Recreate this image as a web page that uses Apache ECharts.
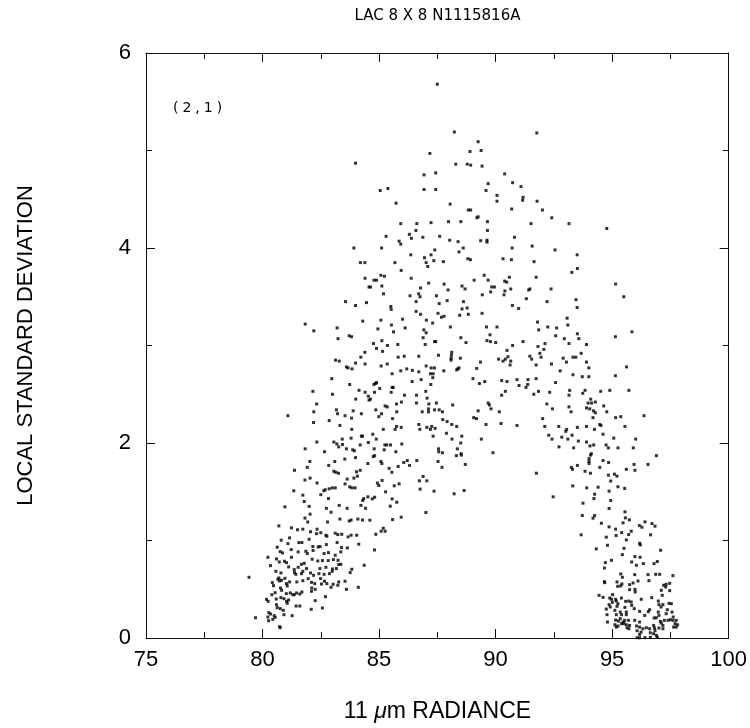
<!DOCTYPE html>
<html><head><meta charset="utf-8">
<script src="https://cdn.jsdelivr.net/npm/echarts@6/dist/echarts.min.js"></script>
<style>html,body{margin:0;padding:0;background:#fff}#c{width:750px;height:728px}</style>
</head><body><div id="c"></div>
<script>
// ---- text ----
const chartTitle = 'LAC 8 X 8 N1115816A';
const xAxisTitle = ['11 ', 'μ', 'm RADIANCE'];
const yAxisTitle = 'LOCAL STANDARD DEVIATION';
const panelTag = '(2,1)';
// ---- axes ----
const xTickValues = [75, 80, 85, 90, 95, 100];
const yTickValues = [0, 2, 4, 6];

// ---- data: [11 um radiance, local standard deviation] ----
const ptsUpperLeft = [[83.99,4.87],[83.92,4.00],[84.20,3.85],[84.39,3.85]];
const ptsUpperMid = [
[87.50,5.68],[88.23,5.19],[89.25,5.09],[88.90,4.99],[89.38,5.00],[87.18,4.97],[88.29,4.86],[88.78,4.86],[88.93,4.85],[89.42,4.84],
[86.93,4.75],[87.43,4.77],[90.39,4.76],[89.68,4.66],[90.73,4.67],[91.09,4.63],[89.59,4.59],[85.05,4.59],[85.38,4.61],[86.93,4.60],
[87.43,4.60],[90.06,4.54],[91.18,4.52],[90.06,4.48],[91.16,4.49],[85.73,4.46],[88.05,4.45],[90.69,4.40],[88.83,4.39],[88.93,4.39],
[89.20,4.31],[89.25,4.32],[85.93,4.25],[86.62,4.25],[87.23,4.26],[87.98,4.27],[88.51,4.27],[89.65,4.27],[86.58,4.18],[89.65,4.18],
[86.30,4.14],[85.30,4.12],[86.39,4.10],[86.88,4.11],[87.60,4.12],[90.81,4.11],[88.03,4.08],[88.39,4.065],[85.86,4.07],[85.93,4.04],
[89.36,4.075],[89.63,4.08],[89.63,4.06],[85.11,4.00],[87.39,3.98],[88.61,4.00],[90.71,4.00],[88.43,3.96],[86.36,3.93],[87.23,3.93],
[86.95,3.90],[88.81,3.89],[88.92,3.88],[90.32,3.89],[90.68,3.88],[85.68,3.85],[87.35,3.87],[87.76,3.86],[87.02,3.85]];
const ptsUpperRight = [[91.77,5.18],[91.78,4.48],[92.01,4.39],[92.41,4.31],[91.52,4.25],[93.15,4.25],[94.77,4.20],[91.57,4.02],[92.55,3.98],[93.50,3.93],[91.65,3.86]];
const ptsMidLeft = [
[84.40,3.69],[84.57,3.60],[83.56,3.45],[83.99,3.41],[84.46,3.44],[84.30,3.25],[81.83,3.22],[83.20,3.18],[82.20,3.15],[83.24,3.07],
[83.72,3.10],[83.82,3.09],[84.39,2.93],[84.22,2.88],[83.13,2.85],[83.29,2.84],[83.99,2.82],[84.40,2.81],[83.60,2.78],[83.67,2.77],
[83.84,2.76],[82.97,2.66],[83.74,2.60],[82.16,2.53],[84.14,2.54],[84.40,2.52],[83.00,2.50],[84.54,2.48],[84.00,2.45],[84.57,2.44],
[82.32,2.40],[83.17,2.34],[83.89,2.33],[82.20,2.32],[83.22,2.30],[83.54,2.28],[84.24,2.30],[81.09,2.28],[83.82,2.255],[82.86,2.23],
[82.19,2.21],[83.32,2.18],[83.83,2.14],[84.24,2.07],[84.29,2.07],[83.80,2.05],[83.42,2.04],[82.33,2.01],[83.06,2.01],[83.19,1.99],
[83.43,1.985],[84.54,2.005],[83.27,1.96],[84.19,1.98],[81.83,1.94],[83.60,1.94],[83.87,1.93],[83.94,1.92],[82.66,1.91]];
const ptsMidCenter = [
[87.09,3.81],[85.95,3.77],[85.08,3.72],[85.23,3.71],[84.78,3.67],[84.89,3.67],[86.38,3.69],[89.51,3.72],[89.68,3.67],[90.59,3.70],
[90.39,3.66],[90.48,3.65],[91.42,3.57],[84.63,3.60],[85.12,3.61],[87.13,3.64],[86.78,3.59],[87.79,3.63],[87.96,3.57],[88.56,3.61],
[88.69,3.58],[89.08,3.67],[89.83,3.60],[89.95,3.60],[89.79,3.55],[90.40,3.56],[90.65,3.58],[85.19,3.53],[86.33,3.51],[86.70,3.53],
[86.76,3.50],[87.46,3.51],[87.92,3.46],[88.62,3.45],[89.43,3.52],[90.36,3.52],[91.32,3.48],[86.59,3.45],[87.58,3.43],[90.72,3.41],
[90.99,3.38],[85.505,3.40],[85.52,3.37],[86.59,3.35],[86.78,3.32],[87.53,3.33],[87.79,3.30],[87.68,3.29],[88.56,3.375],[88.78,3.385],
[88.46,3.31],[88.83,3.32],[89.42,3.33],[85.08,3.26],[86.01,3.27],[87.03,3.26],[87.30,3.23],[85.53,3.21],[86.12,3.18],[84.95,3.17],
[88.06,3.19],[89.61,3.19],[90.06,3.19],[85.62,3.14],[86.92,3.16],[87.02,3.13],[89.76,3.11],[86.89,3.08],[88.51,3.08],[88.73,3.03],
[89.63,3.05],[89.78,3.04],[90.005,3.03],[91.18,3.04],[85.12,3.05],[84.76,3.02],[84.89,2.97],[85.36,3.00],[85.805,3.01],[86.98,3.01],
[87.38,3.04],[87.43,3.04],[90.73,3.00],[90.49,2.95],[85.15,2.94],[85.82,2.88],[86.08,2.89],[86.705,2.89],[87.55,2.90],[88.12,2.93],
[88.105,2.90],[88.09,2.87],[88.09,2.85],[88.49,2.87],[90.13,2.86],[90.32,2.84],[90.42,2.86],[90.53,2.885],[90.65,2.84],[90.62,2.80],
[89.35,2.83],[85.09,2.79],[85.35,2.81],[85.56,2.71],[85.93,2.74],[86.19,2.76],[86.43,2.745],[86.705,2.73],[87.02,2.79],[87.235,2.77],
[87.38,2.77],[87.205,2.71],[87.32,2.71],[87.305,2.67],[87.78,2.74],[88.33,2.75],[88.38,2.76],[88.43,2.77],[89.19,2.765],[84.78,2.60],
[84.85,2.61],[84.89,2.62],[85.03,2.56],[85.56,2.57],[85.605,2.57],[85.52,2.52],[84.805,2.52],[86.42,2.63],[86.805,2.65],[87.005,2.53],
[87.22,2.60],[89.03,2.66],[89.305,2.61],[89.535,2.63],[90.26,2.64],[90.49,2.63],[90.92,2.65],[91.39,2.65],[91.38,2.60],[91.305,2.57],
[91.005,2.59],[84.63,2.45],[86.09,2.49],[86.605,2.49],[87.06,2.46],[90.42,2.53],[90.26,2.49],[85.26,2.38],[85.35,2.37],[84.86,2.34],
[85.75,2.40],[85.96,2.42],[85.105,2.30],[84.99,2.27],[85.76,2.32],[86.605,2.41],[87.135,2.40],[87.12,2.35],[86.85,2.32],[87.12,2.32],
[87.38,2.34],[87.46,2.41],[87.58,2.34],[87.72,2.32],[88.16,2.39],[89.68,2.41],[89.735,2.39],[89.805,2.35],[89.25,2.33],[90.16,2.32],
[89.06,2.26],[89.18,2.25],[85.58,2.25],[87.735,2.24],[87.92,2.22],[88.12,2.19],[88.33,2.17],[89.59,2.19],[90.235,2.20],[90.92,2.18],
[86.705,2.19],[85.75,2.17],[85.95,2.16],[85.18,2.14],[85.69,2.14],[86.75,2.14],[87.05,2.16],[87.26,2.17],[87.405,2.15],[87.205,2.14],
[87.32,2.07],[87.89,2.10],[84.73,2.09],[84.88,2.04],[85.975,1.99],[85.25,1.98],[85.33,1.98],[85.49,1.98],[84.79,1.94],[85.22,1.93],
[85.72,1.91],[88.13,2.04],[88.55,2.07],[88.505,2.00],[89.39,2.04],[87.55,1.94],[87.56,1.91],[87.72,1.90],[88.36,1.94],[88.52,1.89],
[89.89,1.90]];
const ptsMidRight = [
[93.51,3.79],[93.27,3.75],[91.74,3.70],[95.15,3.63],[91.47,3.58],[92.38,3.58],[95.50,3.50],[92.21,3.45],[93.45,3.47],[93.50,3.39],
[93.07,3.28],[93.10,3.21],[91.80,3.24],[92.24,3.19],[92.62,3.18],[91.85,3.16],[92.58,3.10],[92.95,3.07],[93.51,3.12],[93.57,3.07],
[93.15,3.02],[93.90,3.01],[91.82,2.99],[92.12,3.02],[92.07,2.96],[91.90,2.92],[91.95,2.88],[91.47,2.89],[91.55,2.86],[92.90,2.87],
[93.04,2.83],[93.32,2.88],[93.44,2.88],[93.67,2.92],[93.90,2.83],[91.74,2.80],[92.40,2.81],[94.00,2.77],[92.77,2.74],[93.32,2.70],
[93.72,2.68],[94.00,2.68],[95.14,3.09],[95.85,3.14],[95.62,2.78],[95.14,2.69],[91.74,2.66],[92.57,2.62],[91.64,2.50],[91.84,2.53],
[92.32,2.52],[93.18,2.54],[93.15,2.49],[93.74,2.51],[93.84,2.54],[94.51,2.53],[94.90,2.54],[95.72,2.54],[94.08,2.45],[93.97,2.41],
[94.12,2.41],[94.28,2.42],[92.20,2.40],[92.44,2.35],[93.15,2.37],[93.24,2.32],[93.90,2.36],[94.04,2.35],[94.20,2.33],[94.28,2.31],
[94.64,2.38],[94.77,2.32],[92.02,2.25],[94.18,2.26],[95.15,2.26],[95.37,2.27],[96.37,2.28],[92.11,2.17],[92.71,2.17],[93.05,2.14],
[93.01,2.12],[93.51,2.16],[93.90,2.17],[94.47,2.19],[94.52,2.18],[94.24,2.14],[95.55,2.17],[94.61,2.09],[92.28,2.08],[92.42,2.04],
[92.84,2.06],[93.10,2.04],[93.28,2.08],[93.55,2.02],[93.90,2.01],[94.05,1.97],[94.21,1.98],[94.74,1.98],[94.84,1.95],[95.07,2.05],
[95.25,1.95],[95.91,1.95],[96.01,2.04],[92.72,1.96],[93.35,1.95],[94.11,1.89]];
const ptsLowLeft = [
[82.03,1.81],[81.37,1.72],[81.92,1.75],[82.84,1.77],[83.10,1.81],[83.53,1.835],[83.99,1.85],[84.52,1.79],[83.06,1.71],[83.14,1.70],
[83.26,1.69],[84.03,1.705],[84.19,1.72],[84.07,1.66],[83.92,1.64],[81.82,1.62],[82.04,1.64],[82.34,1.59],[83.63,1.63],[83.74,1.55],
[83.84,1.54],[83.97,1.54],[83.54,1.58],[81.34,1.51],[82.63,1.51],[82.69,1.52],[82.86,1.53],[82.99,1.54],[83.12,1.54],[82.50,1.47],
[81.73,1.465],[84.34,1.43],[84.30,1.41],[84.52,1.448],[82.83,1.43],[81.79,1.40],[82.00,1.35],[80.96,1.345],[82.74,1.33],[83.29,1.36],
[83.63,1.33],[84.22,1.36],[84.42,1.33],[82.94,1.29],[81.82,1.23],[82.04,1.27],[81.94,1.19],[83.32,1.22],[82.79,1.19],[83.72,1.20],
[84.09,1.22],[84.29,1.21],[83.80,1.21],[80.70,1.15],[81.24,1.13],[81.50,1.11],[81.73,1.116],[82.34,1.116],[82.06,1.09],[82.32,1.07],
[82.50,1.08],[82.72,1.054],[82.76,1.044],[83.12,1.075],[83.23,1.061],[83.40,1.064],[83.67,1.037],[84.04,1.054],[83.80,1.054],[80.80,1.003],
[81.16,1.027],[81.09,0.968],[81.56,0.979],[81.69,0.979],[82.00,1.013],[82.16,0.938],[82.47,0.938],[82.74,0.958],[83.20,0.979],[83.39,0.927],
[84.13,0.962],[80.63,0.931],[80.76,0.886],[80.86,0.873],[81.23,0.907],[81.53,0.883],[81.86,0.890],[81.92,0.866],[82.17,0.897],[82.39,0.934],
[82.64,0.866],[82.83,0.876],[83.12,0.849],[83.36,0.883],[83.64,0.924],[80.23,0.828],[80.60,0.811],[80.72,0.780],[80.94,0.787],[81.03,0.773],
[81.24,0.828],[82.13,0.808],[82.37,0.790],[82.57,0.794],[82.82,0.794],[83.04,0.804],[83.24,0.797],[80.34,0.742],[81.12,0.729],[81.53,0.725],
[81.36,0.701],[81.67,0.756],[81.79,0.766],[81.89,0.712],[82.46,0.712],[82.72,0.725],[83.00,0.708],[83.27,0.753],[83.36,0.756],[83.83,0.705],
[84.36,0.746],[80.57,0.684],[80.70,0.616],[80.79,0.667],[81.37,0.671],[81.43,0.653],[81.67,0.660],[81.73,0.684],[82.06,0.667],[82.19,0.643],
[82.42,0.660],[82.64,0.653],[82.87,0.660],[82.99,0.684],[83.17,0.712],[83.76,0.671],[79.42,0.623],[80.42,0.568],[80.66,0.602],[80.73,0.585],
[80.82,0.592],[80.96,0.612],[81.03,0.558],[81.16,0.575],[81.47,0.575],[81.73,0.588],[81.96,0.609],[82.10,0.571],[82.24,0.558],[82.49,0.609],
[82.53,0.554],[82.66,0.582],[82.76,0.558],[83.03,0.551],[83.27,0.575],[83.54,0.582],[84.11,0.520],[80.47,0.537],[80.77,0.513],[80.82,0.489],
[81.06,0.534],[80.54,0.465],[80.40,0.444],[81.02,0.455],[81.19,0.462],[81.30,0.444],[81.46,0.462],[81.36,0.444],[81.60,0.451],[81.69,0.472],
[82.10,0.479],[82.11,0.513],[82.26,0.499],[82.94,0.520],[83.23,0.541],[83.60,0.499],[80.17,0.397],[80.24,0.376],[80.59,0.400],[80.79,0.414],
[80.92,0.403],[81.03,0.376],[81.12,0.390],[81.44,0.328],[81.60,0.328],[82.09,0.294],[82.26,0.383],[82.57,0.308],[82.70,0.424],[80.60,0.342],
[80.76,0.301],[80.89,0.284],[81.06,0.356],[80.92,0.239],[80.63,0.311],[80.27,0.260],[80.34,0.246],[80.50,0.229],[80.54,0.212],[80.23,0.215],
[80.44,0.191],[79.70,0.208],[80.26,0.177],[81.27,0.229],[80.73,0.116],[80.76,0.106]];
const ptsLowMid = [
[84.75,1.86],[84.81,1.87],[85.08,1.81],[85.12,1.79],[85.43,1.74],[85.55,1.70],[85.82,1.76],[86.06,1.80],[86.21,1.82],[86.31,1.77],
[86.62,1.82],[87.53,1.81],[87.70,1.75],[88.32,1.87],[88.53,1.876],[88.70,1.78],[84.93,1.59],[84.99,1.564],[85.13,1.616],[85.28,1.499],
[85.65,1.561],[85.86,1.581],[86.73,1.612],[86.89,1.657],[87.05,1.612],[86.76,1.527],[87.36,1.506],[88.22,1.479],[88.65,1.513],[84.71,1.427],
[84.81,1.444],[85.56,1.427],[85.76,1.393],[85.48,1.352],[84.605,1.208],[85.58,1.215],[85.95,1.239],[87.01,1.287],[84.86,1.064],[85.09,1.095],
[85.18,1.126],[85.26,1.095],[84.805,0.903]];
const ptsLowRight = [
[94.07,1.876],[94.01,1.84],[94.01,1.81],[94.01,1.79],[94.61,1.82],[94.85,1.80],[96.90,1.87],[91.75,1.69],[93.30,1.73],[93.25,1.75],
[93.51,1.77],[93.84,1.71],[94.07,1.69],[94.47,1.75],[94.84,1.67],[95.10,1.68],[95.21,1.66],[95.61,1.73],[95.98,1.72],[95.94,1.78],
[96.54,1.78],[94.94,1.61],[93.31,1.56],[93.91,1.54],[94.40,1.547],[94.87,1.506],[95.25,1.551],[95.54,1.534],[94.25,1.475],[94.22,1.431],
[92.47,1.448],[93.75,1.383],[94.94,1.410],[94.87,1.328],[95.55,1.294],[93.72,1.256],[94.18,1.229],[94.25,1.256],[94.54,1.177],[95.57,1.232],
[95.74,1.212],[95.47,1.181],[94.87,1.140],[95.15,1.116],[96.17,1.153],[96.28,1.136],[96.41,1.191],[96.71,1.174],[96.84,1.147],[95.41,1.081],
[95.71,1.061],[95.82,1.095],[95.17,1.051],[94.75,1.034],[93.67,1.058],[96.65,1.058],[94.80,0.951],[94.32,0.914],[96.18,0.972],[96.21,0.955],
[95.51,0.920],[95.61,1.006],[97.08,0.900],[95.44,0.855],[95.98,0.835],[96.20,0.828],[94.97,0.797],[94.71,0.773],[95.84,0.780],[94.67,0.718],
[96.04,0.746],[96.34,0.763],[96.80,0.763],[96.94,0.784],[95.37,0.657],[95.44,0.623],[95.97,0.650],[96.54,0.650],[96.87,0.653],[97.04,0.653],
[97.61,0.640],[94.67,0.578],[94.68,0.568],[95.21,0.575],[95.42,0.554],[95.24,0.530],[95.37,0.534],[95.75,0.547],[95.90,0.564],[96.11,0.585],
[96.58,0.588],[97.21,0.541],[97.32,0.551],[97.47,0.561],[97.30,0.523],[95.75,0.496],[95.98,0.499],[95.99,0.472],[97.11,0.489],[97.47,0.486],
[94.44,0.438],[94.61,0.417],[95.02,0.445],[94.90,0.410],[94.97,0.397],[95.15,0.397],[95.40,0.410],[95.58,0.376],[95.71,0.379],[95.82,0.369],
[96.25,0.397],[96.70,0.414],[97.15,0.438],[96.98,0.379],[95.01,0.366],[95.18,0.379],[95.25,0.352],[94.87,0.342],[94.92,0.318],[95.21,0.325],
[95.55,0.314],[95.84,0.335],[97.01,0.342],[97.18,0.342],[97.44,0.355],[97.54,0.352],[97.10,0.318],[97.37,0.290],[94.75,0.297],[95.12,0.284],
[95.35,0.266],[95.61,0.266],[95.95,0.301],[96.18,0.273],[96.55,0.270],[96.61,0.290],[96.98,0.266],[97.32,0.249],[97.57,0.266],[94.78,0.239],
[95.18,0.239],[95.40,0.239],[95.61,0.239],[96.40,0.232],[96.80,0.205],[96.90,0.208],[97.01,0.232],[97.62,0.215],[94.80,0.164],[95.15,0.184],
[95.27,0.174],[95.35,0.198],[95.47,0.164],[95.54,0.181],[95.70,0.181],[95.97,0.181],[96.18,0.164],[97.07,0.171],[97.24,0.181],[97.40,0.181],
[97.50,0.188],[97.61,0.181],[97.75,0.181],[95.12,0.136],[95.25,0.123],[95.40,0.147],[95.51,0.147],[95.61,0.136],[95.75,0.129],[96.05,0.123],
[96.18,0.112],[96.32,0.095],[96.47,0.105],[96.61,0.095],[96.78,0.129],[96.82,0.102],[97.11,0.153],[97.18,0.129],[97.70,0.147],[97.81,0.136],
[97.75,0.112],[97.64,0.112],[95.18,0.112],[95.64,0.105],[95.72,0.095],[96.07,0.075],[96.24,0.061],[96.64,0.054],[96.84,0.075],[97.01,0.102],
[96.90,0.027],[96.07,0.003],[96.18,0.002],[96.41,0.004],[96.64,0.006],[96.94,0.008],[96.18,0.037],[96.78,0.044],[97.18,0.095]];

const allPoints = [].concat(ptsUpperLeft, ptsUpperMid, ptsUpperRight, ptsMidLeft, ptsMidCenter, ptsMidRight, ptsLowLeft, ptsLowMid, ptsLowRight);

const chart = echarts.init(document.getElementById('c'), null, {renderer: 'canvas'});
const axisCol = '#111';
const grid = {left: 146, right: 21, top: 53, bottom: 90};
const frameW = 750 - grid.left - grid.right;
const frameH = 728 - grid.top - grid.bottom;
const sans = '"Liberation Sans", Arial, sans-serif';
const tickFont = {fontFamily: sans, fontSize: 22, color: '#000'};

function xAx(pos, labels) {
  return {
    type: 'value', position: pos, min: xTickValues[0], max: xTickValues[xTickValues.length - 1],
    interval: xTickValues[1] - xTickValues[0],
    axisLine: {show: true, onZero: false, lineStyle: {color: axisCol, width: 1}},
    axisTick: {show: true, inside: true, length: 9, lineStyle: {color: axisCol}},
    minorTick: {show: true, splitNumber: 2, length: 6, lineStyle: {color: axisCol}},
    splitLine: {show: false}, minorSplitLine: {show: false},
    axisLabel: Object.assign({show: labels, margin: 11}, tickFont)
  };
}
function yAx(pos, labels) {
  return {
    type: 'value', position: pos, min: yTickValues[0], max: yTickValues[yTickValues.length - 1],
    interval: yTickValues[1] - yTickValues[0],
    axisLine: {show: true, onZero: false, lineStyle: {color: axisCol, width: 1}},
    axisTick: {show: true, inside: true, length: 9, lineStyle: {color: axisCol}},
    minorTick: {show: true, splitNumber: 2, length: 6, lineStyle: {color: axisCol}},
    splitLine: {show: false}, minorSplitLine: {show: false},
    axisLabel: Object.assign({show: labels, margin: 15}, tickFont)
  };
}

// spaced-out characters of the panel tag, drawn as rich text runs
const tagRich = panelTag.split('').map(function (ch) { return '{t|' + ch + '}'; }).join('');

chart.setOption({
  backgroundColor: '#fff',
  animation: false,
  grid: grid,
  xAxis: [xAx('bottom', true), xAx('top', false)],
  yAxis: [yAx('left', true), yAx('right', false)],
  graphic: [
    {type: 'text', style: {text: chartTitle, font: '15px "DejaVu Sans", sans-serif', fill: '#000', textAlign: 'center', textVerticalAlign: 'middle'}, position: [grid.left + frameW / 2, 16], silent: true},
    {type: 'text', style: {text: tagRich, rich: {t: {font: '14px "DejaVu Sans", sans-serif', fill: '#000', padding: [0, 2, 0, 2]}}, textAlign: 'left', textVerticalAlign: 'middle'}, position: [171, 108], silent: true},
    {type: 'text', style: {text: yAxisTitle, font: '22px ' + sans, fill: '#000', textAlign: 'center', textVerticalAlign: 'middle'}, position: [26, grid.top + frameH / 2], rotation: Math.PI / 2, silent: true},
    {type: 'text', style: {rich: {n: {font: '23px ' + sans, fill: '#000'}, m: {font: 'italic 23px ' + sans, fill: '#000'}}, text: '{n|' + xAxisTitle[0] + '}{m|' + xAxisTitle[1] + '}{n|' + xAxisTitle[2] + '}', textAlign: 'center', textVerticalAlign: 'middle'}, position: [grid.left + frameW / 2, 712], silent: true}
  ],
  series: [{
    type: 'scatter', xAxisIndex: 0, yAxisIndex: 0,
    symbol: 'rect', symbolSize: 3,
    itemStyle: {color: '#000'},
    data: allPoints, clip: true, silent: true
  }]
});
</script>
</body></html>
